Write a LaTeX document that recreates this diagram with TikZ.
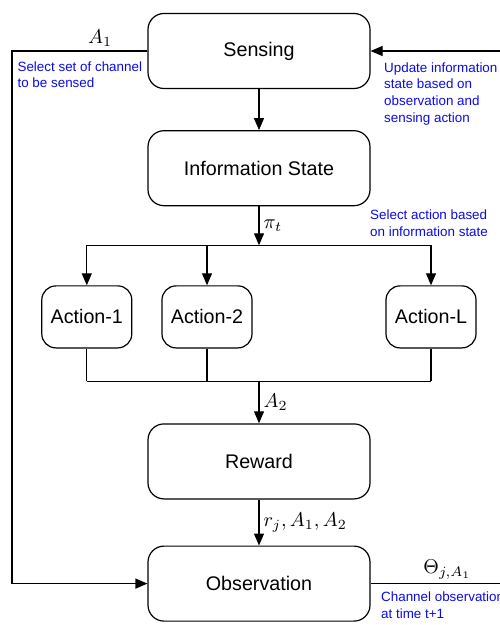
\documentclass[tikz,border=0pt]{standalone}
\usepackage{fontspec}
\setmainfont{Liberation Sans}
\usepackage{amsmath}
\usepackage{tikz}
\usetikzlibrary{arrows.meta, positioning}
\definecolor{notecol}{RGB}{10,10,235}

\begin{document}
\begin{tikzpicture}[
    node distance=20pt and 14pt,
    bigbox/.style={draw, rounded corners=8pt, minimum width=111pt, minimum height=37.5pt,
      font=\fontsize{9.85}{11}\selectfont, line width=0.6pt},
    actbox/.style={draw, rounded corners=7pt, minimum width=45pt, minimum height=31pt,
      font=\fontsize{9.85}{11}\selectfont, line width=0.6pt},
    note/.style={text=notecol, align=left, inner sep=0pt,
      font=\fontsize{6.7}{8.3}\selectfont},
    lab/.style={inner sep=2pt, font=\fontsize{10}{12}\selectfont},
    every path/.style={line width=0.6pt},
    arr/.style={-{Triangle[length=6pt, width=5pt]}}
    ]
    \useasboundingbox (0,0) rectangle (249.5pt,-312.5pt);

    % Nodes
    \node (sensing) [bigbox] at (129.5pt,-25.5pt) {Sensing};
    \node (info) [bigbox, below=20.5pt of sensing] {Information State};
    \coordinate [below=19.5pt of info] (split);
    \node (act2) [actbox, below=20pt of split, xshift=-26pt] {Action-2};
    \node (act1) [actbox, left=14.5pt of act2] {Action-1};
    \node (actL) [actbox, below=20pt of split, xshift=86pt] {Action-L};
    \node (reward) [bigbox, below=108.5pt of info] {Reward};
    \coordinate [above=21pt of reward] (join);
    \node (obs) [bigbox, below=23pt of reward] {Observation};

    \coordinate (lft) at (6pt,0);
    \coordinate (rgt) at (252pt,0);

    % Edges
    \draw[arr] (sensing) -- (info);
    \draw[arr] (info) -- node[right, lab] {$\pi_t$} (split);
    \draw (act1 |- split) -- (actL |- split);
    \foreach \a in {act1, act2, actL}
      \draw[arr] (\a |- split) -- (\a);
    \foreach \a in {act1, act2, actL}
      \draw (\a) -- (\a |- join);
    \draw (act1 |- join) -- (actL |- join);
    \draw[arr] (join) -- node[right, lab] {$A_2$} (reward);
    \draw[arr] (reward) -- node[right, lab] {$r_j, A_1, A_2$} (obs);

    % Feedback loops
    \draw[arr] (sensing.west) -- node[above, lab, pos=0.35] {$A_1$} (sensing.west -| lft)
      |- (obs.west);
    \draw[arr] (obs.east) -- node[above, lab, pos=0.575] {$\Theta_{j,A_1}$} (obs.east -| rgt)
      |- (sensing.east);

    % Notes
    \node (selset) [note, anchor=north west] at ([xshift=2.5pt, yshift=-5pt] sensing.west -| lft)
      {Select set of channel\\to be sensed};
    \node (update) [note, anchor=north west] at ([xshift=6.5pt, yshift=-5.5pt] sensing.east)
      {Update information\\state based on\\observation and\\sensing action};
    \node (selact) [note, anchor=north west] at ([xshift=-0.5pt, yshift=-1.5pt] info.south east)
      {Select action based\\on information state};
    \node (chobs) [note, anchor=north west] at ([xshift=5pt, yshift=-4pt] obs.east)
      {Channel observation\\at time t+1};

  \end{tikzpicture}
\end{document}
